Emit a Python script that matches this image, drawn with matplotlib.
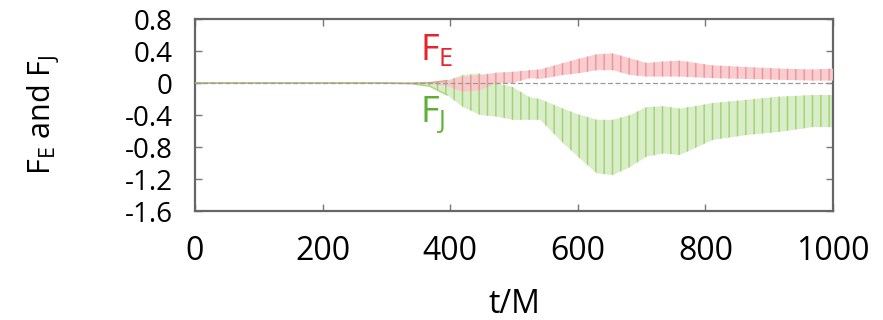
import numpy as np
import matplotlib
matplotlib.use('Agg')
from matplotlib import pyplot as plt

# envelopes of the two oscillating fluxes
t = [0, 290, 340, 368, 395, 420, 447, 473, 498, 525, 541,
     577, 600, 630, 655, 682, 708, 735, 760, 812, 865, 917, 969, 1000]
fE_hi = [0, 0, 0, 0.005, 0.03, 0.08, 0.10, 0.13, 0.14, 0.16, 0.17,
         0.25, 0.30, 0.36, 0.37, 0.31, 0.25, 0.27, 0.28, 0.22, 0.20, 0.18, 0.17, 0.18]
fE_lo = [0, 0, 0, -0.01, -0.04, -0.11, -0.09, 0.0, 0.0, 0.06, 0.05,
         0.10, 0.12, 0.16, 0.16, 0.10, 0.08, 0.08, 0.08, 0.06, 0.05, 0.04, 0.03, 0.03]
fJ_hi = [0, 0, 0, 0.01, 0.03, 0.10, 0.12, 0.0, -0.05, -0.18, -0.20,
         -0.32, -0.39, -0.46, -0.46, -0.40, -0.30, -0.29, -0.32, -0.25, -0.21, -0.17, -0.15, -0.15]
fJ_lo = [0, 0, -0.01, -0.04, -0.15, -0.30, -0.40, -0.42, -0.46, -0.46, -0.46,
         -0.75, -0.92, -1.13, -1.15, -1.05, -0.92, -0.88, -0.90, -0.71, -0.65, -0.61, -0.55, -0.55]

xticks = [0, 200, 400, 600, 800, 1000]
yticks = [0.8, 0.4, 0, -0.4, -0.8, -1.2, -1.6]
ylabs = ['0.8', '0.4', '0', '-0.4', '-0.8', '-1.2', '-1.6']

plt.rcParams['font.family'] = ['Open Sans', 'DejaVu Sans']
plt.rcParams['mathtext.fontset'] = 'custom'
plt.rcParams['mathtext.rm'] = 'Open Sans'
plt.rcParams['mathtext.it'] = 'Open Sans'
plt.rcParams['hatch.linewidth'] = 1.0

fg = plt.figure(figsize=(8.83, 3.20), dpi=100)
ax = fg.add_axes([195/883., 1 - 211/320., 638/883., 192/320.])

t = np.array(t)
ax.fill_between(t, fJ_lo, fJ_hi, facecolor='#d8edc8', edgecolor='#9fd270',
                hatch='||', linewidth=0, zorder=2)
ax.fill_between(t, fE_lo, fE_hi, facecolor='#f8c8ca', edgecolor='#f08a8f',
                hatch='||', linewidth=0, alpha=0.9, zorder=3)
# quiet early part, both series sit on zero
ax.plot(t[:5], fJ_lo[:5], color='#a8d67c', lw=1.0, zorder=3)
ax.plot(t[:5], fE_hi[:5], color='#c8a070', lw=1.0, alpha=0.8, zorder=3)
ax.axhline(0, color='#9a9a9a', lw=0.9, ls=(0, (4, 2)), zorder=4)

ax.set_xlim(0, 1000)
ax.set_ylim(-1.6, 0.8)
ax.set_xticks(xticks)
ax.set_xticklabels([str(v) for v in xticks], fontsize=23)
ax.set_yticks(yticks)
ax.set_yticklabels(ylabs, fontsize=20)
ax.tick_params(direction='in', length=5, width=1, color='#777777',
               top=True, right=True)
ax.tick_params(axis='x', pad=17)
ax.tick_params(axis='y', pad=16)
for s in ax.spines.values():
  s.set_color('#666666')
  s.set_linewidth(1.6)

ax.set_xlabel('t/M', fontsize=23, labelpad=15)
ax.set_ylabel(r'F$_\mathrm{E}$ and F$_\mathrm{J}$', fontsize=22, labelpad=46)

ax.text(353, 0.29, r'F$_\mathrm{E}$', color='#e8232c', fontsize=26, va='baseline', ha='left')
ax.text(353, -0.50, r'F$_\mathrm{J}$', color='#5bb133', fontsize=26, va='baseline', ha='left')

fg.savefig('out.png', dpi=100)
